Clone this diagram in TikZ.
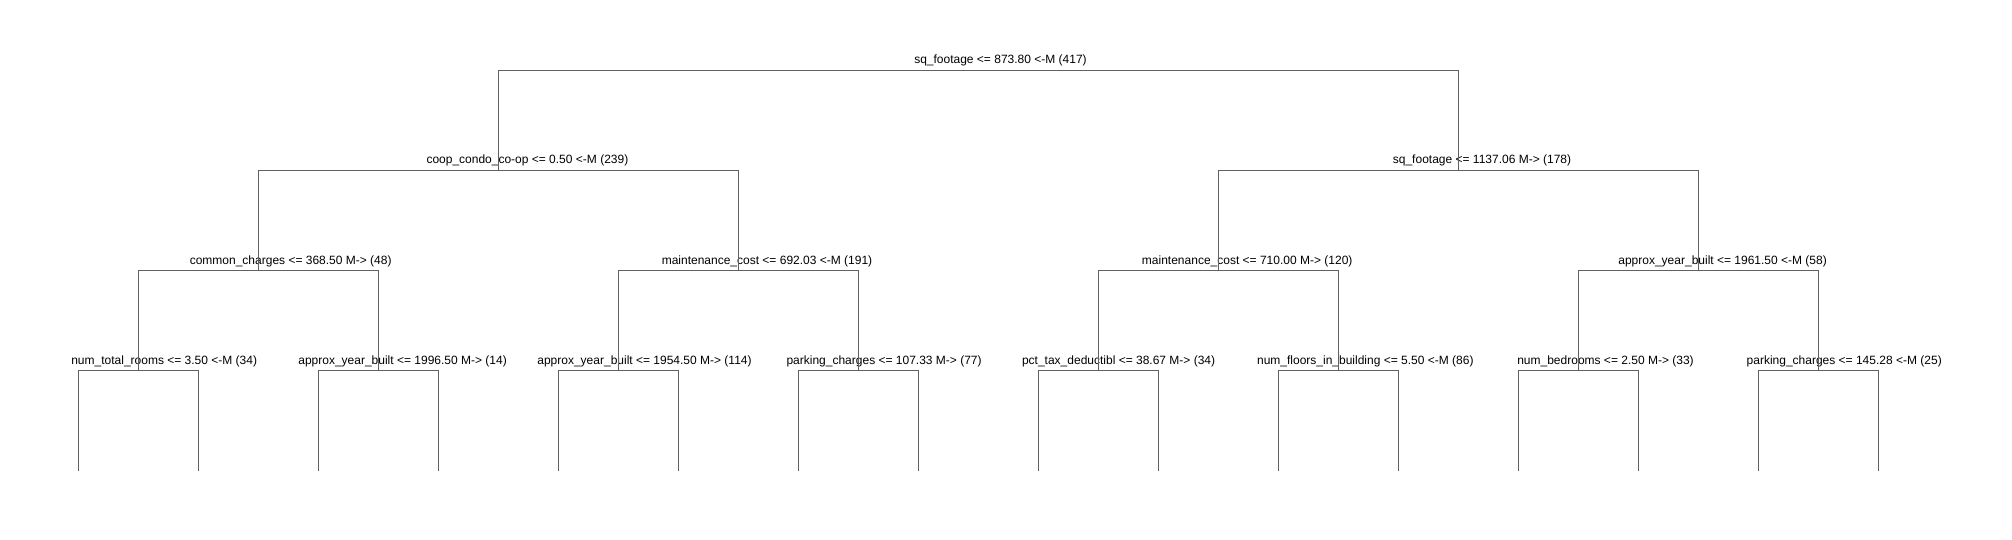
\documentclass[tikz,border=0pt]{standalone}
\usepackage{fontspec}
\setmainfont{Liberation Sans}
\begin{document}
\begin{tikzpicture}[x=1pt,y=-1pt,
  lbl/.style={anchor=base,inner sep=0pt,font=\fontsize{12}{14}\selectfont,text=black},
  edge/.style={draw=black!62,line width=1pt}]
\useasboundingbox (0,0) rectangle (2012,540);
% split points
\coordinate (n1) at (978.4,70.3);
\coordinate (n2) at (498.5,170.3);
\coordinate (n3) at (1458.3,170.3);
\coordinate (n4) at (258.6,270.3);
\coordinate (n5) at (738.5,270.3);
\coordinate (n6) at (1218.4,270.3);
\coordinate (n7) at (1698.3,270.3);
\coordinate (n8) at (138.5,370.3);
\coordinate (n9) at (378.5,370.3);
\coordinate (n10) at (618.5,370.3);
\coordinate (n11) at (858.5,370.3);
\coordinate (n12) at (1098.4,370.3);
\coordinate (n13) at (1338.4,370.3);
\coordinate (n14) at (1578.3,370.3);
\coordinate (n15) at (1818.3,370.3);
% leaves
\foreach \i/\x in {1/78.3,2/198.3,3/318.9,4/438.2,5/558.8,6/678.2,7/798.2,8/918.1,9/1038.1,10/1158.1,11/1278.7,12/1398.7,13/1518.6,14/1638.6,15/1758.6,16/1878.6}
  \coordinate (l\i) at (\x,470.7);
% labels
\node[lbl] (t1) at (1000.5,64) {sq\_footage <= 873.80 <-M (417)};
\node[lbl] (t2) at (527.4,164) {coop\_condo\_co-op <= 0.50 <-M (239)};
\node[lbl] (t3) at (1482,164) {sq\_footage <= 1137.06 M-> (178)};
\node[lbl] (t4) at (290.7,264) {common\_charges <= 368.50 M-> (48)};
\node[lbl] (t5) at (767,264) {maintenance\_cost <= 692.03 <-M (191)};
\node[lbl] (t6) at (1247.2,264) {maintenance\_cost <= 710.00 M-> (120)};
\node[lbl] (t7) at (1722.6,264) {approx\_year\_built <= 1961.50 <-M (58)};
\node[lbl] (t8) at (164.2,364) {num\_total\_rooms <= 3.50 <-M (34)};
\node[lbl] (t9) at (402.6,364) {approx\_year\_built <= 1996.50 M-> (14)};
\node[lbl] (t10) at (644.5,364) {approx\_year\_built <= 1954.50 M-> (114)};
\node[lbl] (t11) at (884.1,364) {parking\_charges <= 107.33 M-> (77)};
\node[lbl] (t12) at (1118.6,364) {pct\_tax\_deductibl <= 38.67 M-> (34)};
\node[lbl] (t13) at (1365.3,364) {num\_floors\_in\_building <= 5.50 <-M (86)};
\node[lbl] (t14) at (1605.5,364) {num\_bedrooms <= 2.50 M-> (33)};
\node[lbl] (t15) at (1844.2,364) {parking\_charges <= 145.28 <-M (25)};
% edges
\draw[edge] (n2) |- (n1) -| (n3);
\draw[edge] (n4) |- (n2) -| (n5);
\draw[edge] (n6) |- (n3) -| (n7);
\draw[edge] (n8) |- (n4) -| (n9);
\draw[edge] (n10) |- (n5) -| (n11);
\draw[edge] (n12) |- (n6) -| (n13);
\draw[edge] (n14) |- (n7) -| (n15);
\draw[edge] (l1) |- (n8) -| (l2);
\draw[edge] (l3) |- (n9) -| (l4);
\draw[edge] (l5) |- (n10) -| (l6);
\draw[edge] (l7) |- (n11) -| (l8);
\draw[edge] (l9) |- (n12) -| (l10);
\draw[edge] (l11) |- (n13) -| (l12);
\draw[edge] (l13) |- (n14) -| (l14);
\draw[edge] (l15) |- (n15) -| (l16);
\end{tikzpicture}
\end{document}
